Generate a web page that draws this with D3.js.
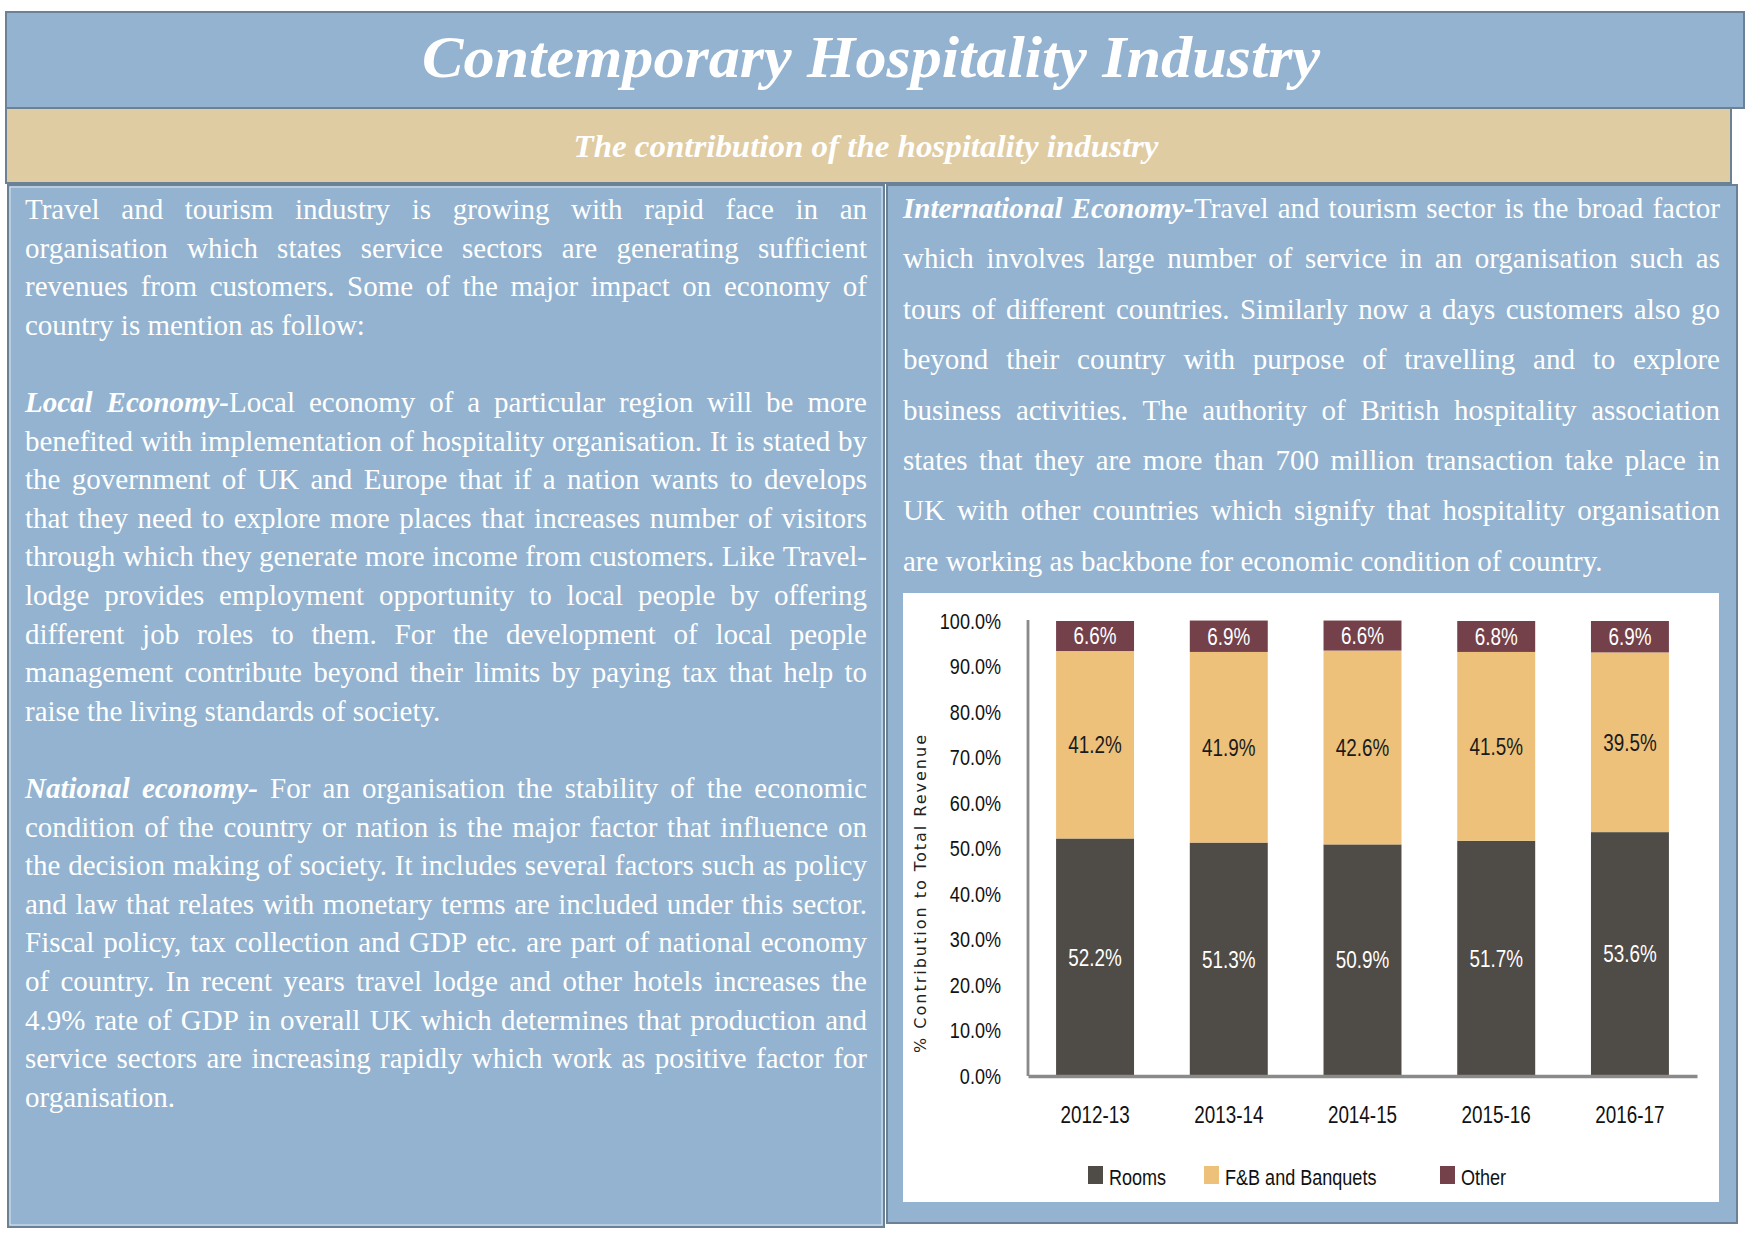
<!DOCTYPE html>
<html>
<head>
<meta charset="utf-8">
<script src="https://cdn.jsdelivr.net/npm/d3@7"></script>
<style>
  html, body { margin: 0; padding: 0; background: #ffffff; }
  svg { display: block; }
</style>
</head>
<body>
<svg id="page" width="1754" height="1241"></svg>
<script>
// ---------------- DATA ----------------
const titleText = "Contemporary Hospitality Industry";
const subtitleText = "The contribution of the hospitality industry";

const categories = ["2012-13", "2013-14", "2014-15", "2015-16", "2016-17"];
const roomsValues = [52.2, 51.3, 50.9, 51.7, 53.6];
const fnbValues = [41.2, 41.9, 42.6, 41.5, 39.5];
const otherValues = [6.6, 6.9, 6.6, 6.8, 6.9];
const seriesKeys = ["rooms", "fnb", "other"];
const seriesNames = ["Rooms", "F&B and Banquets", "Other"];
const yTickValues = [0, 10, 20, 30, 40, 50, 60, 70, 80, 90, 100];
const yAxisTitle = "% Contribution to Total Revenue";

// text lines (*...* = bold italic run); last line of each paragraph is not justified
const leftParagraphs = [
  [
    "Travel and tourism industry is growing with rapid face in an",
    "organisation which states service sectors are generating sufficient",
    "revenues from customers. Some of the major impact on economy of",
    "country is mention as follow:"
  ],
  [
    "*Local Economy-*Local economy of a particular region will be more",
    "benefited with implementation of hospitality organisation. It is stated by",
    "the government of UK and Europe that if a nation wants to develops",
    "that they need to explore more places that increases number of visitors",
    "through which they generate more income from customers. Like Travel-",
    "lodge provides employment opportunity to local people by offering",
    "different job roles to them. For the development of local people",
    "management contribute beyond their limits by paying tax that help to",
    "raise the living standards of society."
  ],
  [
    "*National economy-* For an organisation the stability of the economic",
    "condition of the country or nation is the major factor that influence on",
    "the decision making of society. It includes several factors such as policy",
    "and law that relates with monetary terms are included under this sector.",
    "Fiscal policy, tax collection and GDP etc. are part of national economy",
    "of country. In recent years travel lodge and other hotels increases the",
    "4.9% rate of GDP in overall UK which determines that production and",
    "service sectors are increasing rapidly which work as positive factor for",
    "organisation."
  ]
];
const rightLines = [
  "*International Economy-*Travel and tourism sector is the broad factor",
  "which involves large number of service in an organisation such as",
  "tours of different countries. Similarly now a days customers also go",
  "beyond their country with purpose of travelling and to explore",
  "business activities. The authority of British hospitality association",
  "states that they are more than 700 million transaction take place in",
  "UK with other countries which signify that hospitality organisation",
  "are working as backbone for economic condition of country."
];

// ---------------- STYLE ----------------
const BLUE = "#93b3d0";
const TAN = "#dfcca3";
const BORDER = "#6b8196";
const COLORS = { rooms: "#4f4b46", fnb: "#edc17a", other: "#74414a" };
const SERIF = "'Liberation Serif','Times New Roman',serif";
const SANS = "'Liberation Sans',Arial,sans-serif";
const NARROW_RATIO = 0.82;

const svg = d3.select("#page");

// condense a sans text horizontally (no narrow face installed)
function condense(sel) {
  sel.each(function () {
    const w = this.getComputedTextLength();
    d3.select(this).attr("textLength", w * NARROW_RATIO).attr("lengthAdjust", "spacingAndGlyphs");
  });
}

// ---------------- PANELS ----------------
svg.append("rect").attr("x", 6).attr("y", 12).attr("width", 1738).attr("height", 96)
  .attr("fill", BLUE).attr("stroke", BORDER).attr("stroke-width", 2);
svg.append("rect").attr("x", 6).attr("y", 108).attr("width", 1725).attr("height", 75)
  .attr("fill", TAN).attr("stroke", BORDER).attr("stroke-width", 2);
svg.append("rect").attr("x", 8).attr("y", 185).attr("width", 876).attr("height", 1042)
  .attr("fill", BLUE).attr("stroke", BORDER).attr("stroke-width", 2);
svg.append("rect").attr("x", 10).attr("y", 187).attr("width", 872).attr("height", 1038)
  .attr("fill", "none").attr("stroke", "#dfe8f0").attr("stroke-width", 1);
svg.append("rect").attr("x", 887).attr("y", 185).attr("width", 850).attr("height", 1038)
  .attr("fill", BLUE).attr("stroke", BORDER).attr("stroke-width", 2);

svg.append("text").attr("x", 871).attr("y", 77).attr("text-anchor", "middle")
  .attr("font-family", SERIF).attr("font-size", 60).attr("font-weight", "bold").attr("font-style", "italic")
  .attr("fill", "#ffffff").attr("textLength", 898).attr("lengthAdjust", "spacingAndGlyphs")
  .text(titleText);
svg.append("text").attr("x", 866).attr("y", 157).attr("text-anchor", "middle")
  .attr("font-family", SERIF).attr("font-size", 31).attr("font-weight", "bold").attr("font-style", "italic")
  .attr("fill", "#ffffff").attr("textLength", 585).attr("lengthAdjust", "spacingAndGlyphs")
  .text(subtitleText);

// ---------------- JUSTIFIED TEXT ----------------
function parseLine(str) {
  const words = [];
  let cur = [];
  let bold = false;
  let run = { t: "", b: false };
  const pushRun = () => { if (run.t) cur.push(run); run = { t: "", b: bold }; };
  for (const ch of str) {
    if (ch === "*") { pushRun(); bold = !bold; run = { t: "", b: bold }; continue; }
    if (ch === " ") { pushRun(); if (cur.length) words.push(cur); cur = []; continue; }
    run.t += ch;
  }
  pushRun();
  if (cur.length) words.push(cur);
  return words;
}
function drawLine(g, str, x0, width, y, justify) {
  const words = parseLine(str);
  const els = words.map(w => {
    const t = g.append("text").attr("y", y).attr("font-family", SERIF)
      .attr("font-size", 29).attr("fill", "#ffffff");
    w.forEach(r => {
      const ts = t.append("tspan").text(r.t);
      if (r.b) ts.attr("font-weight", "bold").attr("font-style", "italic");
    });
    return t;
  });
  const widths = els.map(e => e.node().getComputedTextLength());
  const total = d3.sum(widths);
  const gap = (justify && words.length > 1) ? (width - total) / (words.length - 1) : 29 * 0.25;
  let x = x0;
  els.forEach((e, i) => { e.attr("x", x); x += widths[i] + gap; });
}

const leftG = svg.append("g");
let lineIdx = 0;
leftParagraphs.forEach(par => {
  par.forEach((ln, i) => {
    drawLine(leftG, ln, 25, 842, 219 + lineIdx * 38.6, i < par.length - 1);
    lineIdx++;
  });
  lineIdx++;
});
const rightG = svg.append("g");
rightLines.forEach((ln, i) => {
  drawLine(rightG, ln, 903, 817, 218 + i * 50.4, i < rightLines.length - 1);
});

// ---------------- CHART ----------------
svg.append("rect").attr("x", 903).attr("y", 593).attr("width", 816).attr("height", 609).attr("fill", "#ffffff");

const data = categories.map((c, i) => ({ cat: c, rooms: roomsValues[i], fnb: fnbValues[i], other: otherValues[i] }));
const stacked = d3.stack().keys(seriesKeys)(data);

const x = d3.scaleBand().domain(categories).range([1028, 1697]).paddingInner(0.417).paddingOuter(0.21);
const y = d3.scaleLinear().domain([0, 100]).range([1076, 621]);

const chart = svg.append("g");
chart.selectAll("g.layer").data(stacked).join("g").attr("class", "layer")
  .attr("fill", d => COLORS[d.key])
  .selectAll("rect").data(d => d).join("rect")
  .attr("x", d => x(d.data.cat)).attr("width", x.bandwidth())
  .attr("y", d => y(d[1])).attr("height", d => y(d[0]) - y(d[1]));

// value labels
stacked.forEach(layer => {
  chart.append("g").selectAll("text").data(layer).join("text")
    .attr("x", d => x(d.data.cat) + x.bandwidth() / 2)
    .attr("y", d => (y(d[0]) + y(d[1])) / 2)
    .attr("dy", "0.36em")
    .attr("text-anchor", "middle")
    .attr("font-family", SANS).attr("font-size", 23)
    .attr("fill", layer.key === "fnb" ? "#1a1a1a" : "#ffffff")
    .text(d => (d[1] - d[0]).toFixed(1) + "%")
    .call(condense);
});

// axes
const yAxis = svg.append("g").attr("transform", "translate(1028,0)")
  .call(d3.axisLeft(y).tickValues(yTickValues).tickSize(0).tickPadding(27)
    .tickFormat(d => d.toFixed(1) + "%"));
yAxis.select(".domain").attr("stroke", "#8a8a8a").attr("stroke-width", 2.8).attr("d", "M0,620V1076");
yAxis.selectAll("text").attr("font-family", SANS).attr("font-size", 22).attr("fill", "#111").call(condense);

const xAxis = svg.append("g").attr("transform", "translate(0,1076)")
  .call(d3.axisBottom(x).tickSize(0).tickPadding(31).tickSizeOuter(0));
xAxis.select(".domain").attr("stroke", "#8a8a8a").attr("stroke-width", 3.3);
xAxis.selectAll("text").attr("font-family", SANS).attr("font-size", 23).attr("fill", "#111").call(condense);

svg.append("text").attr("transform", "translate(926,894) rotate(-90)")
  .attr("text-anchor", "middle").attr("font-family", "'DejaVu Sans',Verdana,sans-serif")
  .attr("font-size", 16).attr("fill", "#222")
  .attr("textLength", 318).attr("lengthAdjust", "spacing")
  .text(yAxisTitle);

// legend
const legendX = [1088, 1204, 1440];
const legend = svg.append("g").selectAll("g").data(seriesKeys).join("g")
  .attr("transform", (d, i) => `translate(${legendX[i]},1166)`);
legend.append("rect").attr("width", 15).attr("height", 18).attr("fill", d => COLORS[d]);
legend.append("text").attr("x", 21).attr("y", 19)
  .attr("font-family", SANS).attr("font-size", 22).attr("fill", "#111")
  .text((d, i) => seriesNames[i])
  .call(condense);
</script>
</body>
</html>
